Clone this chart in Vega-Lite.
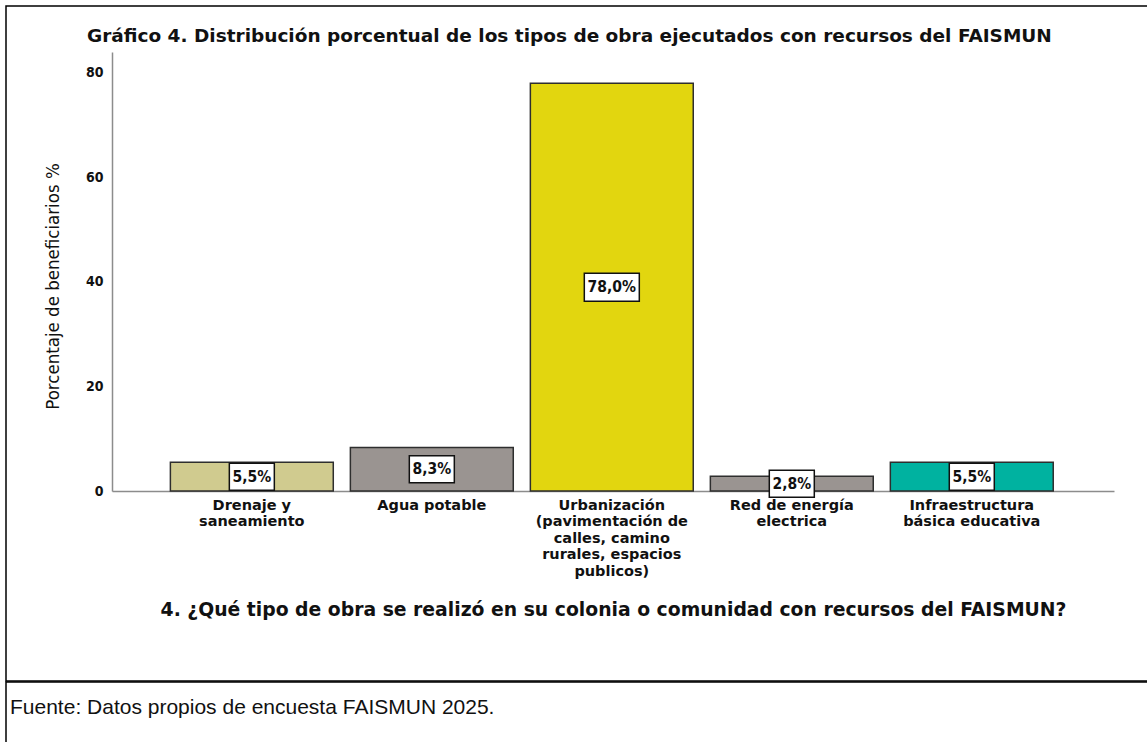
{
  "$schema": "https://vega.github.io/schema/vega-lite/v6.json",
  "padding": {"left": 5, "top": 5, "right": 0, "bottom": 0},
  "background": "white",
  "spacing": -1.5,
  "config": {
    "view": {"stroke": "black", "strokeWidth": 1.5},
    "concat": {"spacing": -1.5}
  },
  "datasets": {
    "obras": [
      {"tipo": "Drenaje y saneamiento", "pct": 5.5, "etiqueta": "5,5%"},
      {"tipo": "Agua potable", "pct": 8.3, "etiqueta": "8,3%"},
      {"tipo": "Urbanización (pavimentación de calles, camino rurales, espacios publicos)", "pct": 78.0, "etiqueta": "78,0%"},
      {"tipo": "Red de energía electrica", "pct": 2.8, "etiqueta": "2,8%"},
      {"tipo": "Infraestructura básica educativa", "pct": 5.5, "etiqueta": "5,5%"}
    ],
    "fuente": [
      {"nota": "Fuente: Datos propios de encuesta FAISMUN 2025.", "px": 0, "py": 0.6}
    ]
  },
  "vconcat": [
    {
      "width": 1145,
      "height": 675,
      "data": {"name": "obras"},
      "title": {
        "text": "Gráfico 4. Distribución porcentual de los tipos de obra ejecutados con recursos del FAISMUN",
        "anchor": "start",
        "frame": "group",
        "orient": "top",
        "offset": -39,
        "dx": 81,
        "font": "DejaVu Sans",
        "fontSize": 18.5,
        "fontWeight": "bold",
        "color": "#111111"
      },
      "encoding": {
        "x": {
          "field": "tipo",
          "type": "nominal",
          "sort": null,
          "scale": {"range": [106, 1108], "paddingInner": 0.095, "paddingOuter": 0.331, "align": 0.49},
          "axis": {
            "orient": "bottom",
            "offset": -190,
            "ticks": false,
            "grid": false,
            "domainColor": "#8c8c8c",
            "domainWidth": 1.5,
            "labelAngle": 0,
            "labelFont": "DejaVu Sans",
            "labelFontWeight": "bold",
            "labelFontSize": 14.5,
            "labelLineHeight": 16.5,
            "labelColor": "#111111",
            "labelPadding": 7,
            "labelLimit": 0,
            "labelExpr": "datum.label == 'Drenaje y saneamiento' ? ['Drenaje y', 'saneamiento'] : datum.label == 'Red de energía electrica' ? ['Red de energía', 'electrica'] : datum.label == 'Infraestructura básica educativa' ? ['Infraestructura', 'básica educativa'] : datum.label == 'Agua potable' ? 'Agua potable' : ['Urbanización', '(pavimentación de', 'calles, camino', 'rurales, espacios', 'publicos)']",
            "title": "4. ¿Qué tipo de obra se realizó en su colonia o comunidad con recursos del FAISMUN?",
            "titleFont": "DejaVu Sans",
            "titleFontSize": 18.8,
            "titleFontWeight": "bold",
            "titleColor": "#111111",
            "titlePadding": 23
          }
        }
      },
      "layer": [
        {
          "mark": {"type": "bar", "stroke": "#2e2e2e", "strokeWidth": 1.5},
          "encoding": {
            "y": {
              "field": "pct",
              "type": "quantitative",
              "scale": {"domain": [0, 84], "range": [485, 46], "nice": false, "zero": true},
              "axis": {
                "orient": "left",
                "offset": -106,
                "values": [0, 20, 40, 60, 80],
                "ticks": false,
                "grid": false,
                "domainColor": "#8c8c8c",
                "domainWidth": 1.5,
                "labelFont": "DejaVu Sans Condensed",
                "labelFontSize": 14,
                "labelFontWeight": "bold",
                "labelColor": "#111111",
                "labelPadding": 9,
                "title": "Porcentaje de beneficiarios %",
                "titleFont": "DejaVu Sans Condensed",
                "titleFontSize": 18.5,
                "titleFontWeight": "normal",
                "titleColor": "#111111",
                "titlePadding": 23,
                "titleY": 280
              }
            },
            "color": {
              "field": "tipo",
              "type": "nominal",
              "scale": {
                "domain": [
                  "Drenaje y saneamiento",
                  "Agua potable",
                  "Urbanización (pavimentación de calles, camino rurales, espacios publicos)",
                  "Red de energía electrica",
                  "Infraestructura básica educativa"
                ],
                "range": ["#D0CB8F", "#9A9491", "#E2D60F", "#9A9491", "#00B2A0"]
              },
              "legend": null
            }
          }
        },
        {
          "layer": [
            {
              "mark": {"type": "point", "filled": true, "fill": "white", "stroke": "#111111", "strokeWidth": 1.5, "opacity": 1},
              "encoding": {
                "size": {"condition": {"test": "datum.pct > 50", "value": 3025}, "value": 2025},
                "shape": {"condition": {"test": "datum.pct > 50", "value": "M-1,-0.51L1,-0.51L1,0.51L-1,0.51Z"}, "value": "M-1,-0.6L1,-0.6L1,0.6L-1,0.6Z"}
              }
            },
            {
              "mark": {"type": "text", "font": "DejaVu Sans Condensed", "fontWeight": "bold", "fontSize": 15.5, "color": "#111111", "baseline": "middle", "align": "center"},
              "encoding": {
                "text": {"field": "etiqueta"}
              }
            }
          ],
          "encoding": {
            "y": {
              "field": "pct",
              "type": "quantitative",
              "scale": {"domain": [0, 84], "range": [485, 265.5], "nice": false, "zero": true},
              "axis": null
            }
          }
        }
      ],
      "resolve": {"scale": {"y": "independent"}, "axis": {"y": "independent"}}
    },
    {
      "width": 1145,
      "height": 64,
      "data": {"name": "fuente"},
      "mark": {"type": "text", "align": "left", "baseline": "middle", "dx": 4, "font": "Liberation Sans", "fontSize": 21, "color": "#111111"},
      "encoding": {
        "x": {"field": "px", "type": "quantitative", "scale": {"domain": [0, 1]}, "axis": null},
        "y": {"field": "py", "type": "quantitative", "scale": {"domain": [0, 1]}, "axis": null},
        "text": {"field": "nota"}
      }
    }
  ]
}
